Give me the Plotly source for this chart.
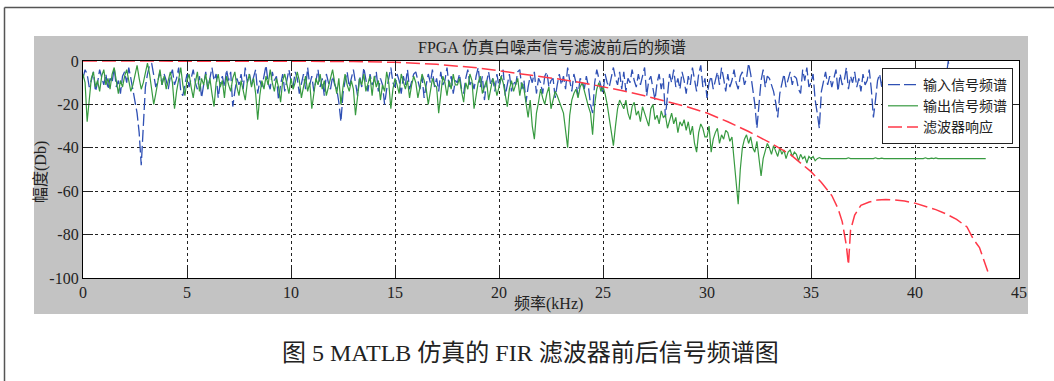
import plotly.graph_objects as go

# ---------------- data ----------------
FREQ_STEP_KHZ = 0.1
# input spectrum, dB, 0.1 kHz apart (one row per kHz)
input_db = [
    -8, -4, -6, -12, -9, -5, -14, -10, -4, -7,
    -11, -6, -13, -8, -10, -3, -12, -9, -15, -7,
    -5, -10, -3, -8, -14, -19, -24, -33, -48, -30,
    -12, -6, -2, -1, -7, -12, -9, -5, -11, -6,
    -9, -13, -7, -4, -11, -8, -3, -14, -16, -10,
    -6, -12, -8, -4, -10, -13, -7, -17, -11, -5,
    -13, -8, -3, -9, -6, -17, -10, -7, -12, -4,
    -9, -5, -21, -14, -8, -11, -6, -13, -3, -10,
    -6, -11, -8, -4, -15, -9, -12, -7, -2, -10,
    -13, -5, -9, -7, -18, -11, -6, -14, -8, -4,
    -9, -12, -5, -8, -15, -10, -6, -13, -3, -11,
    -7, -14, -9, -4, -12, -8, -16, -6, -10, -13,
    -7, -11, -13, -19, -28, -15, -9, -5, -12, -8,
    -4, -10, -16, -7, -12, -3, -9, -14, -6, -11,
    -9, -5, -14, -8, -11, -20, -13, -7, -3, -10,
    -12, -6, -9, -15, -7, -11, -4, -13, -10, -6,
    -5, -9, -13, -7, -17, -11, -6, -10, -4, -12,
    -8, -14, -5, -11, -9, -3, -12, -7, -15, -9,
    -10, -6, -13, -15, -8, -4, -11, -9, -13, -7,
    -3, -12, -7, -18, -10, -5, -11, -8, -14, -6,
    -12, -8, -4, -16, -10, -6, -14, -9, -11, -5,
    -4, -13, -9, -19, -12, -7, -10, -5, -15, -8,
    -10, -15, -7, -5, -12, -9, -8, -17, -11, -6,
    -11, -7, -13, -3, -9, -14, -6, -10, -16, -8,
    -9, -13, -7, -12, -20, -24, -10, -4, -8, -11,
    -15, -6, -10, -12, -7, -3, -8, -11, -5, -13,
    -5, -14, -8, -10, -4, -9, -12, -6, -11, -7,
    -3, -16, -9, -7, -12, -18, -10, -6, -13, -8,
    -26, -14, -6, -10, -4, -12, -8, -13, -5, -9,
    -15, -7, -11, -3, -9, -14, -6, -2, -12, -8,
    -17, -10, -7, -13, -9, -5, -11, -3, -8, -14,
    -6, -12, -9, -4, -10, -13, -7, -5, -11, -8,
    -1, -6, -13, -20, -31, -18, -9, -4, -12, -7,
    -8, -11, -14, -19, -26, -15, -10, -6, -12, -9,
    -5, -11, -7, -8, -13, -15, -4, -9, -3, -12,
    -10, -6, -18, -24, -31, -14, -9, -5, -11, -7,
    -12, -8, -4, -14, -6, -11, -9, -3, -13, -7,
    -10, -5, -12, -8, -14, -6, -11, -9, -4, -13,
    -26, -18, -9, -6, -12, -5, -10, -14, -7, -11,
    -8, -4, -13, -9, -6, -15, -10, -7, -12, -5,
    -11, -7, -14, -9, -4, -12, -8, -16, -6, -10,
    -13, -5, -9, -3, -11, -7, 0, -8, -12, -6,
    -10, -14, -8, -5, -12, -9, -15, -7, -11, -6,
    -9, -13, -7, -11, -8,
]
# output spectrum, dB, same sampling
output_db = [
    -6, -10, -28, -16, -8, -5, -12, -9, -14, -7,
    -4, -11, -8, -13, -6, -3, -10, -15, -9, -12,
    -7, -4, -9, -14, -11, -6, -2, -8, -13, -10,
    -5, -1, -6, -12, -20, -15, -9, -4, -11, -7,
    -13, -9, -5, -10, -22, -14, -8, -3, -11, -16,
    -9, -6, -12, -17, -10, -5, -14, -8, -11, -6,
    -13, -8, -15, -21, -10, -6, -12, -9, -17, -7,
    -11, -14, -8, -5, -12, -16, -9, -13, -18, -10,
    -6, -12, -8, -15, -27, -16, -9, -13, -7, -11,
    -4, -10, -14, -8, -12, -19, -9, -6, -11, -15,
    -8, -13, -10, -5, -9, -17, -12, -7, -14, -10,
    -22, -15, -8, -11, -6, -13, -9, -16, -12, -7,
    -4, -10, -15, -8, -20, -12, -6, -11, -14, -9,
    -13, -25, -16, -8, -11, -6, -14, -10, -7, -16,
    -7, -12, -9, -18, -11, -14, -5, -10, -22, -13,
    -8, -11, -15, -6, -10, -13, -9, -17, -11, -7,
    -10, -17, -12, -6, -9, -13, -20, -14, -8, -11,
    -12, -24, -15, -7, -10, -16, -9, -13, -6, -11,
    -11, -8, -14, -19, -10, -13, -6, -9, -22, -15,
    -10, -7, -15, -12, -9, -18, -13, -8, -11, -16,
    -12, -7, -10, -15, -21, -13, -9, -14, -11, -8,
    -16, -10, -13, -19, -26, -18, -30, -36, -24, -19,
    -13, -17, -20, -15, -12, -22, -18, -14, -16, -19,
    -21, -24, -32, -40, -25, -18, -15, -13, -17, -12,
    -10, -14, -18, -21, -24, -34, -20, -13, -10, -14,
    -12, -15, -20, -26, -33, -39, -30, -22, -18, -20,
    -22, -18, -24, -27, -21, -19, -25, -23, -28, -21,
    -24, -26, -30, -22, -20, -27, -25, -29, -23, -26,
    -25, -31, -27, -24, -29, -26, -33, -28, -30, -27,
    -32, -28, -34, -30, -38, -42, -33, -29, -31, -35,
    -35, -30, -42, -36, -33, -31, -38, -34, -36, -32,
    -33, -37, -35, -45, -58, -66, -50, -40, -36, -34,
    -38, -35, -40, -42, -37, -44, -53, -45, -41, -38,
    -40, -43, -39, -42, -44, -40, -43, -41, -45, -42,
    -41, -44, -42, -43, -46, -43, -45, -44, -47, -44,
    -45, -44, -46, -45, -44.5, -45, -45, -45, -44.8, -45,
    -45, -44.7, -45, -45, -45, -44.8, -45, -45, -44.6, -45,
    -45, -45, -44.8, -45, -45, -44.7, -45, -45, -45, -44.8,
    -45, -44.6, -45, -45, -44.8, -45, -45, -45, -44.7, -45,
    -45, -45, -44.8, -45, -44.7, -45, -45, -45, -44.8, -45,
    -45, -44.8, -45, -45, -45, -44.6, -45, -45, -44.8, -45,
    -44.7, -45, -45, -44.8, -45, -45, -45, -44.7, -45, -45,
    -45, -44.8, -45, -45, -44.9, -45, -45, -44.8, -45, -45,
    -45, -44.8, -45, -45, -45,
]
freq_khz = [round(i * FREQ_STEP_KHZ, 1) for i in range(len(input_db))]

filter_freq_khz = [0, 5, 10, 13, 15, 17, 19, 20, 21, 22, 23, 24, 25, 26, 27, 28, 29,
                   30, 31, 32, 33, 34, 35, 35.5, 36, 36.3, 36.5, 36.7, 36.8, 36.9,
                   37.1, 37.4, 37.8, 38.2, 38.6, 39.0, 39.5, 40, 40.5, 41, 41.5, 42,
                   42.5, 42.8, 43.1, 43.3, 43.5]
filter_db = [0, 0, 0, -0.2, -0.6, -1.5, -3.2, -4.5, -5.6, -7, -8.5, -10, -11.8, -13.8,
             -16, -18.5, -21, -24, -28, -32.5, -37.5, -43, -51, -56, -62, -68, -74,
             -85, -94, -78, -71, -66.5, -65, -64, -63.8, -64, -64.5, -65.5, -67,
             -68.5, -70.5, -73, -76.5, -82, -86, -92, -97]

series_names = ["输入信号频谱", "输出信号频谱", "滤波器响应"]
x_ticks = [0, 5, 10, 15, 20, 25, 30, 35, 40, 45]
y_ticks = [0, -20, -40, -60, -80, -100]

title_text = "FPGA 仿真白噪声信号滤波前后的频谱"
x_label = "频率(kHz)"
y_label = "幅度(Db)"
caption_text = "图 5 MATLB 仿真的 FIR 滤波器前后信号频谱图"

# ---------------- layout geometry (pixels) ----------------
W, H = 1054, 381
L, R, T, B = 83, 1019, 61, 278
pw, ph = R - L, B - T


def px(x):
    return (x - L) / pw


def py(y):
    return (B - y) / ph


FONT = "Liberation Serif, 'Times New Roman', 'Noto Sans CJK SC', serif"

fig = go.Figure()
fig.add_trace(go.Scatter(x=freq_khz, y=input_db, mode="lines", name=series_names[0],
                         line=dict(color="#2f50b4", width=1.3, dash="12px,4px")))
fig.add_trace(go.Scatter(x=freq_khz, y=output_db, mode="lines", name=series_names[1],
                         line=dict(color="#379a40", width=1.2)))
fig.add_trace(go.Scatter(x=filter_freq_khz, y=filter_db, mode="lines", name=series_names[2],
                         line=dict(color="#ff3848", width=1.5, dash="14px,5px")))

shapes = [
    dict(type="rect", xref="paper", yref="paper", x0=px(34), x1=px(1028), y0=py(314), y1=py(36),
         fillcolor="#c3c3c3", line=dict(width=0), layer="below"),
    dict(type="rect", xref="paper", yref="paper", x0=0, x1=1, y0=0, y1=1,
         fillcolor="white", line=dict(width=0), layer="below"),
    dict(type="line", xref="paper", yref="paper", x0=px(4.5), x1=px(4.5), y0=py(7.5), y1=py(390),
         line=dict(color="#555555", width=1.5)),
    dict(type="line", xref="paper", yref="paper", x0=px(4.5), x1=px(1060), y0=py(7.5), y1=py(7.5),
         line=dict(color="#555555", width=1.5)),
]

annotations = [
    dict(text=title_text, xref="paper", yref="paper", x=px(552), y=py(48), showarrow=False,
         xanchor="center", yanchor="middle", font=dict(family=FONT, size=16, color="#222222")),
    dict(text=y_label, xref="paper", yref="paper", x=px(41), y=py(172), showarrow=False,
         textangle=-90, xanchor="center", yanchor="middle", font=dict(family=FONT, size=16, color="#222222")),
    dict(text=x_label, xref="paper", yref="paper", x=px(548), y=py(304), showarrow=False,
         xanchor="center", yanchor="middle", font=dict(family=FONT, size=16, color="#222222")),
    dict(text=caption_text, xref="paper", yref="paper", x=px(530), y=py(353), showarrow=False,
         xanchor="center", yanchor="middle", font=dict(family=FONT, size=24, color="#222222")),
]

axis_common = dict(
    showline=True, linecolor="black", linewidth=1.2, mirror="ticks",
    ticks="inside", ticklen=10, tickwidth=1.2, tickcolor="#222222",
    showgrid=True, gridcolor="#222222", gridwidth=1, griddash="dot",
    zeroline=False, tickfont=dict(family=FONT, size=16, color="#222222"),
)

fig.update_layout(
    width=W, height=H,
    margin=dict(l=L, r=W - R, t=T, b=H - B, pad=0),
    paper_bgcolor="white", plot_bgcolor="rgba(0,0,0,0)",
    xaxis=dict(range=[0, 45], tickvals=x_ticks, ticktext=[str(v) for v in x_ticks], **axis_common),
    yaxis=dict(range=[-100, 0], tickvals=y_ticks, ticktext=[str(v) for v in y_ticks], **axis_common),
    showlegend=True,
    legend=dict(x=px(1013), y=py(68), xanchor="right", yanchor="top",
                bgcolor="white", bordercolor="#222222", borderwidth=1,
                font=dict(family=FONT, size=14, color="#222222"),
                tracegroupgap=0, itemwidth=30),
    shapes=shapes, annotations=annotations,
)

fig.write_html("out.html")
